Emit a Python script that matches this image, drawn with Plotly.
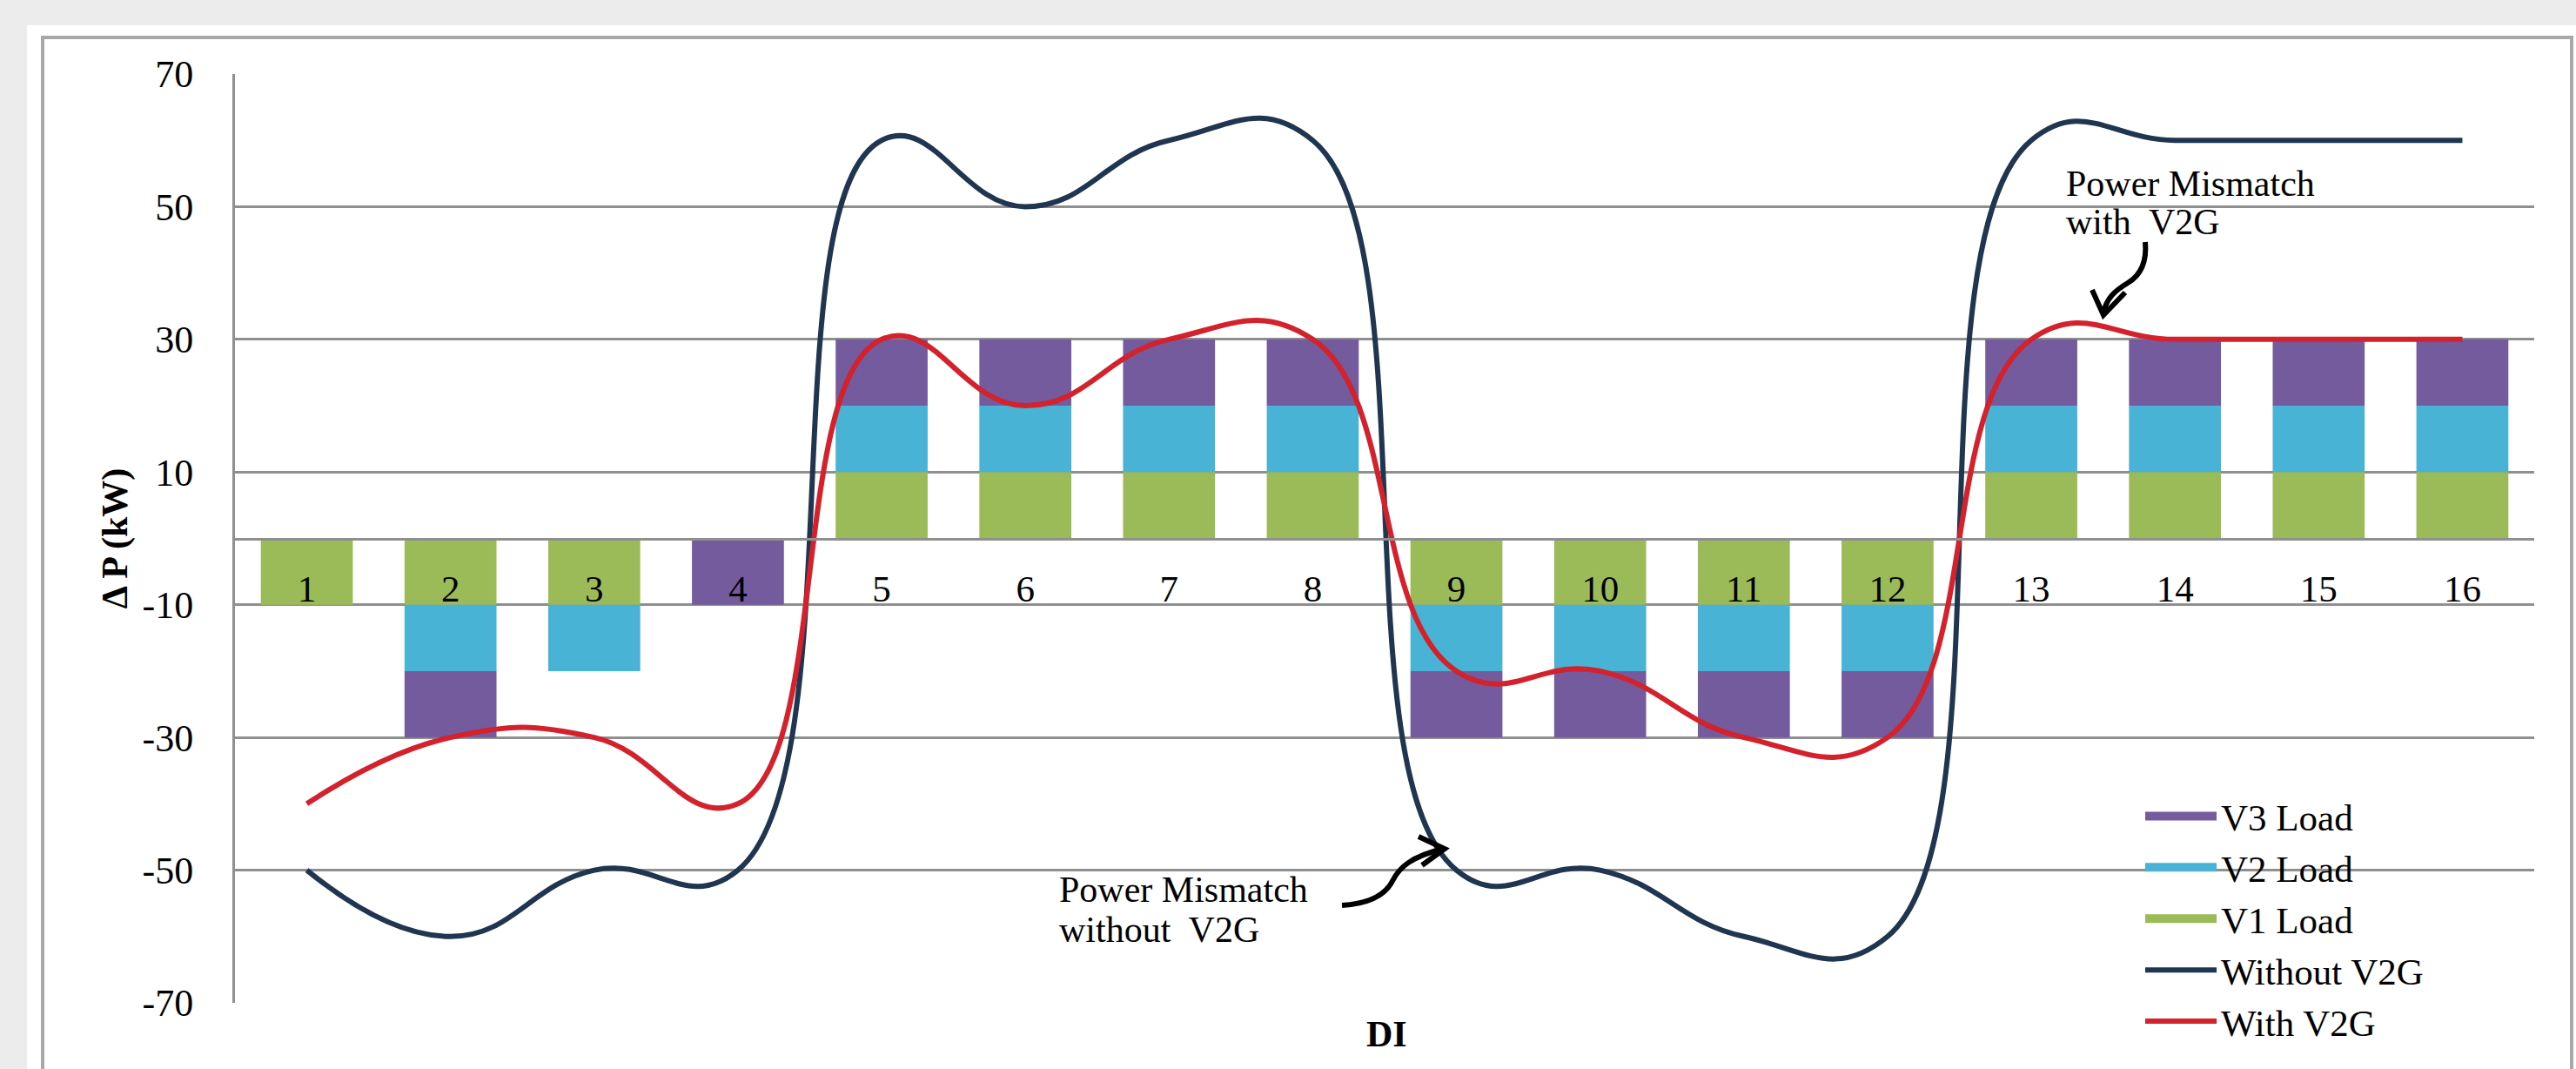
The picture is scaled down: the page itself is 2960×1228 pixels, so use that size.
import plotly.graph_objects as go

# ---------------- data ----------------
di_numbers = list(range(1, 17))
di_labels = [str(i) for i in di_numbers]
v1_load = [-10, -10, -10, 0, 10, 10, 10, 10, -10, -10, -10, -10, 10, 10, 10, 10]
v2_load = [0, -10, -10, 0, 10, 10, 10, 10, -10, -10, -10, -10, 10, 10, 10, 10]
v3_load = [0, -10, 0, -10, 10, 10, 10, 10, -10, -10, -10, -10, 10, 10, 10, 10]
without_v2g = [-50, -60, -50, -50, 60, 50, 60, 60, -50, -50, -60, -60, 60, 60, 60, 60]
with_v2g = [-40, -30, -30, -40, 30, 20, 30, 30, -20, -20, -30, -30, 30, 30, 30, 30]
y_ticks = [-70, -50, -30, -10, 10, 30, 50, 70]
y_tick_labels = ["-70", "-50", "-30", "-10", "10", "30", "50", "70"]

# ---------------- layout geometry ----------------
W, H = 2960, 1228
L, R, T, B = 270, 48, 85, 76
PW, PH = W - L - R, H - T - B
XMIN, XMAX = 0.5, 16.5
YMIN, YMAX = -70, 70

def px_to_data(px, py):
    x = XMIN + (px - L) / PW * (XMAX - XMIN)
    y = YMAX - (py - T) / PH * (YMAX - YMIN)
    return x, y

def px_to_paper(px, py):
    return (px - L) / PW, (H - B - py) / PH

def path_from_px(cmds):
    out = []
    for c in cmds:
        if isinstance(c, str):
            out.append(c)
        else:
            x, y = px_to_data(*c)
            out.append(f"{x:.4f},{y:.4f}")
    return " ".join(out)

FONT = "Liberation Serif"
C_V1, C_V2, C_V3 = "#9bbb59", "#48b3d5", "#735b9d"
C_NAVY, C_RED = "#1f3550", "#d3222b"
GRID = "#8f8f8f"

fig = go.Figure()

for name, vals, col in [("V1 Load", v1_load, C_V1), ("V2 Load", v2_load, C_V2), ("V3 Load", v3_load, C_V3)]:
    fig.add_trace(go.Bar(x=di_numbers, y=vals, name=name, marker=dict(color=col, line=dict(width=0)),
                         showlegend=False))

fig.add_trace(go.Scatter(x=di_numbers, y=without_v2g, name="Without V2G", mode="lines",
                         line=dict(color=C_NAVY, width=6, shape="spline", smoothing=1.3),
                         legendrank=4))
fig.add_trace(go.Scatter(x=di_numbers, y=with_v2g, name="With V2G", mode="lines",
                         line=dict(color=C_RED, width=6, shape="spline", smoothing=1.3),
                         legendrank=5))

# legend-only entries for the bar series (wide swatches)
for rank, (name, col) in enumerate([("V3 Load", C_V3), ("V2 Load", C_V2), ("V1 Load", C_V1)], start=1):
    fig.add_trace(go.Scatter(x=[None], y=[None], name=name, mode="lines",
                             line=dict(color=col, width=21), legendrank=rank))

shapes = []
# page background / chart frame
x0, y0 = px_to_paper(31, 29)
x1, y1 = px_to_paper(W, H)
shapes.append(dict(type="rect", xref="paper", yref="paper", x0=x0, y0=y1, x1=x1, y1=y0,
                   fillcolor="white", line=dict(width=0), layer="below"))
x0, y0 = px_to_paper(49, 43)
x1, y1 = px_to_paper(2955, H + 20)
shapes.append(dict(type="rect", xref="paper", yref="paper", x0=x0, y0=y1, x1=x1, y1=y0,
                   fillcolor="rgba(0,0,0,0)", line=dict(color="#a8a8a8", width=4), layer="below"))

# curly arrows
arrow1 = path_from_px(["M", (1542, 1040), "C", (1574, 1038), (1592, 1028), (1600, 1012),
                       "S", (1622, 984), (1658, 975)])
head1 = path_from_px(["M", (1630, 961), "L", (1660, 975), "L", (1634, 994)])
arrow2 = path_from_px(["M", (2465, 278), "C", (2467, 300), (2460, 316), (2445, 325),
                       "S", (2420, 343), (2417, 360)])
head2 = path_from_px(["M", (2404, 333), "L", (2417, 362), "L", (2442, 336)])
for p in [arrow1, head1, arrow2, head2]:
    shapes.append(dict(type="path", xref="x", yref="y", path=p,
                       line=dict(color="black", width=6), layer="above"))

annotations = []
note_lines = [
    ("Power Mismatch", 1215, 997),
    ("without\u00a0 V2G", 1215, 1043),
    ("Power Mismatch", 2372, 186),
    ("with\u00a0 V2G", 2372, 230),
]
for txt, px_x, px_y in note_lines:
    ax, ay = px_to_data(px_x, px_y)
    annotations.append(dict(x=ax, y=ay, xref="x", yref="y", xanchor="left", yanchor="top", align="left",
                            text=txt, showarrow=False,
                            font=dict(family=FONT, size=42, color="black")))
px_, py_ = px_to_paper(1593, 1188)
annotations.append(dict(x=px_, y=py_, xref="paper", yref="paper", xanchor="center", yanchor="middle",
                        text="<b>DI</b>", showarrow=False,
                        font=dict(family=FONT, size=42, color="black")))

lx, ly = px_to_paper(2460, 903)

fig.update_layout(
    width=W, height=H,
    margin=dict(l=L, r=R, t=T, b=B, pad=0),
    paper_bgcolor="#ececec",
    plot_bgcolor="white",
    barmode="relative",
    bargap=0.36,
    font=dict(family=FONT, size=43, color="black"),
    xaxis=dict(range=[XMIN, XMAX], tickmode="array", tickvals=di_numbers, ticktext=di_labels,
               anchor="free", position=0.5, showgrid=False, zeroline=False,
               showline=True, linecolor=GRID, linewidth=3, ticks="",
               ticklabelstandoff=19, tickfont=dict(family=FONT, size=43, color="black")),
    yaxis=dict(range=[YMIN, YMAX], tickmode="array", tickvals=y_ticks, ticktext=y_tick_labels,
               showgrid=True, gridcolor=GRID, gridwidth=2.5, zeroline=False,
               showline=True, linecolor=GRID, linewidth=3, ticks="",
               ticklabelstandoff=36, tickfont=dict(family=FONT, size=44, color="black"),
               title=dict(text="<b>Δ P (kW)</b>", standoff=4,
                          font=dict(family=FONT, size=42, color="black"))),
    legend=dict(x=lx, y=ly, xanchor="left", yanchor="top", traceorder="normal",
                bgcolor="rgba(0,0,0,0)", itemwidth=82,
                font=dict(family=FONT, size=43, color="black")),
    shapes=shapes,
    annotations=annotations,
)

fig.write_html("out.html", config={"displayModeBar": False},
               post_script="document.body.style.margin='0';")
